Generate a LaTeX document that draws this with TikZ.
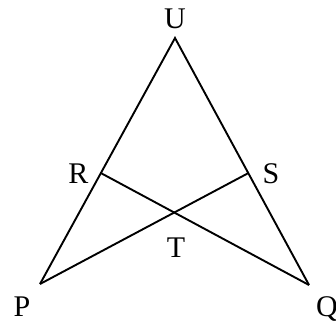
\documentclass[tikz,border=0pt]{standalone}
\usepackage{fontspec}
\setmainfont{Liberation Serif}
\usetikzlibrary{calc}
\begin{document}
\begin{tikzpicture}[x=1bp,y=-1bp,
  lbl/.style={inner sep=0pt,anchor=base,font=\fontsize{30bp}{34bp}\selectfont},
  seg/.style={line width=1.9bp,line join=miter}]
\useasboundingbox (0,0) rectangle (336,324);
\coordinate (U) at (175,38);
\coordinate (P) at (40,284);
\coordinate (Q) at (309,285);
\coordinate (R) at ($(U)!0.549!(P)$);
\coordinate (S) at ($(U)!0.547!(Q)$);
\draw[seg] (P) -- (U) -- (Q);
\draw[seg] (R) -- (Q);
\draw[seg] (S) -- (P);
\node[lbl] (lU) at (175,28) {U};
\node[lbl] (lP) at (22,316) {P};
\node[lbl] (lQ) at (327,316) {Q};
\node[lbl] (lR) at (78.5,183) {R};
\node[lbl] (lS) at (271,183) {S};
\node[lbl] (lT) at (176,257) {T};
\end{tikzpicture}
\end{document}
